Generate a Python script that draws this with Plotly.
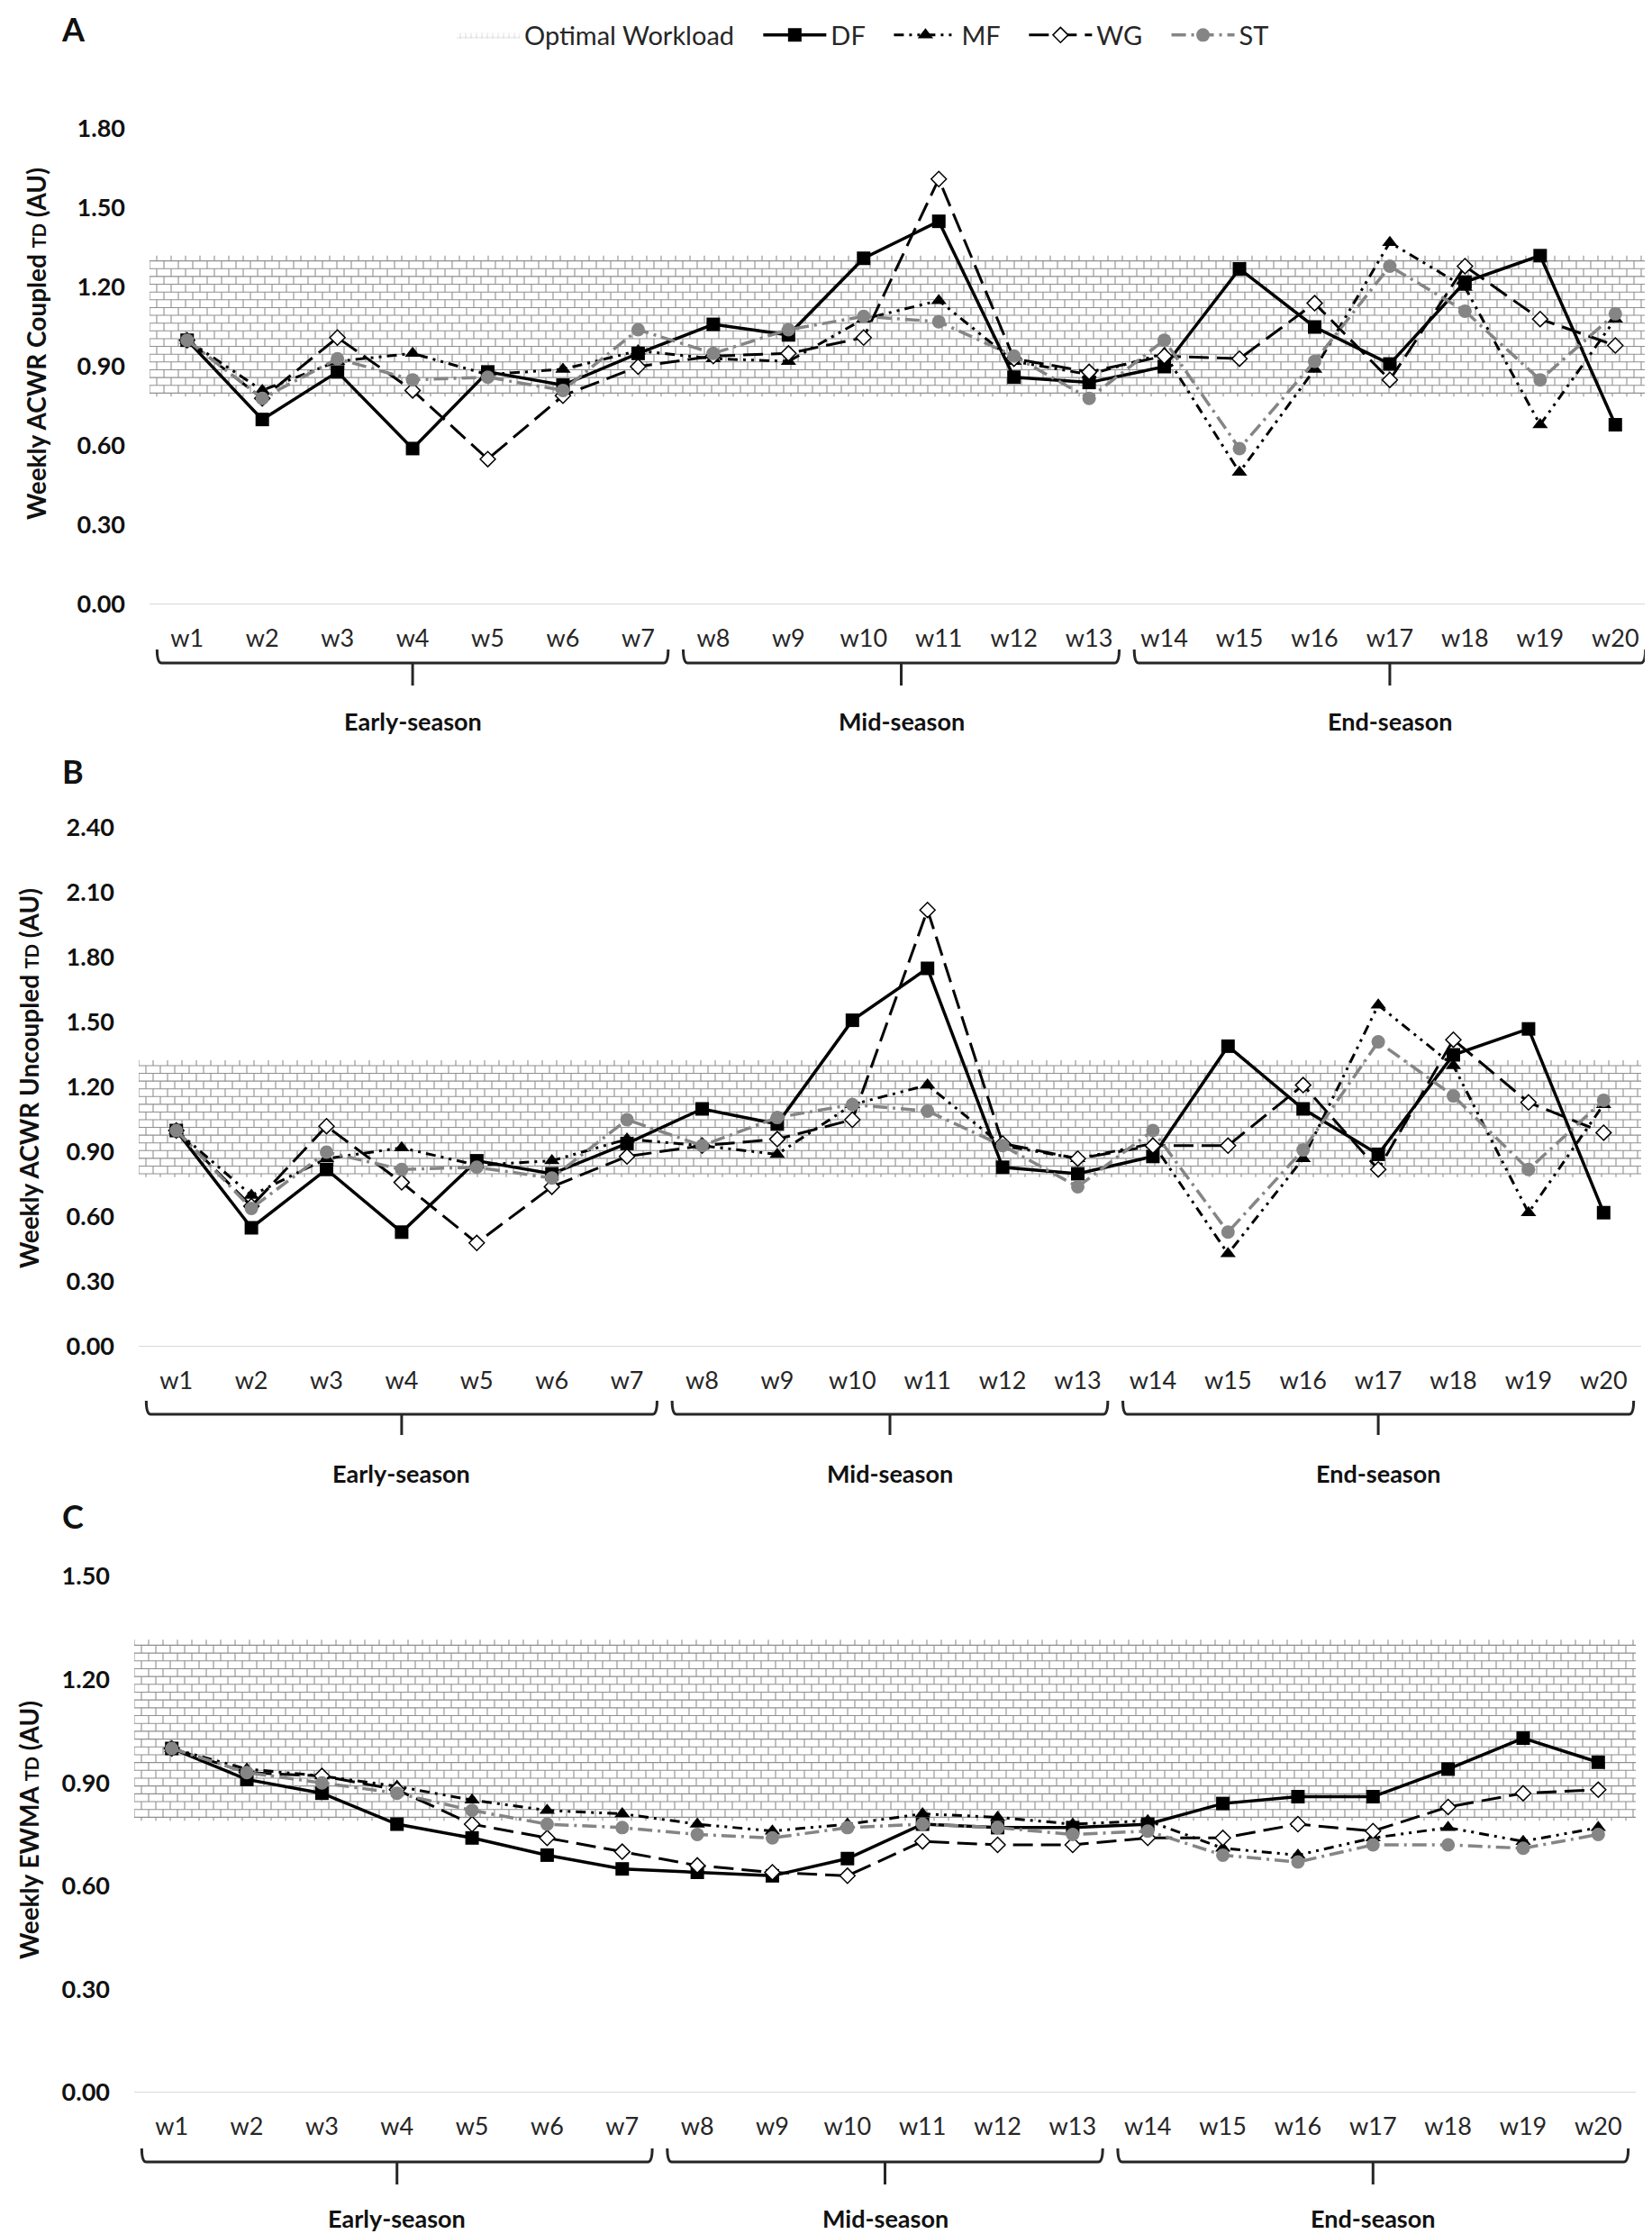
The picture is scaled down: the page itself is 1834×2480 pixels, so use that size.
import plotly.graph_objects as go

# weeks and season groups
week_labels = ["w1", "w2", "w3", "w4", "w5", "w6", "w7", "w8", "w9", "w10",
               "w11", "w12", "w13", "w14", "w15", "w16", "w17", "w18", "w19", "w20"]
season_labels = ["Early-season", "Mid-season", "End-season"]
season_first_week = [1, 8, 14]
season_last_week = [7, 13, 20]

# optimal workload band
optimal_low = 0.80
optimal_high = 1.30

# A: weekly ACWR coupled TD
coupled_df = [1.00, 0.70, 0.88, 0.59, 0.88, 0.83, 0.95, 1.06, 1.02, 1.31,
              1.45, 0.86, 0.84, 0.90, 1.27, 1.05, 0.91, 1.22, 1.32, 0.68]
coupled_mf = [1.00, 0.81, 0.92, 0.95, 0.87, 0.89, 0.96, 0.93, 0.92, 1.08,
              1.15, 0.92, 0.87, 0.95, 0.50, 0.89, 1.37, 1.20, 0.68, 1.08]
coupled_wg = [1.00, 0.78, 1.01, 0.81, 0.55, 0.79, 0.90, 0.94, 0.95, 1.01,
              1.61, 0.93, 0.88, 0.94, 0.93, 1.14, 0.85, 1.28, 1.08, 0.98]
coupled_st = [1.00, 0.78, 0.93, 0.85, 0.86, 0.81, 1.04, 0.95, 1.04, 1.09,
              1.07, 0.94, 0.78, 1.00, 0.59, 0.92, 1.28, 1.11, 0.85, 1.10]

# B: weekly ACWR uncoupled TD
uncoupled_df = [1.00, 0.55, 0.82, 0.53, 0.86, 0.80, 0.94, 1.10, 1.03, 1.51,
                1.75, 0.83, 0.80, 0.88, 1.39, 1.10, 0.89, 1.35, 1.47, 0.62]
uncoupled_mf = [1.00, 0.70, 0.87, 0.92, 0.84, 0.86, 0.96, 0.93, 0.89, 1.12,
                1.21, 0.93, 0.87, 0.94, 0.43, 0.87, 1.58, 1.30, 0.62, 1.12]
uncoupled_wg = [1.00, 0.65, 1.02, 0.76, 0.48, 0.74, 0.88, 0.93, 0.96, 1.05,
                2.02, 0.94, 0.87, 0.93, 0.93, 1.21, 0.82, 1.42, 1.13, 0.99]
uncoupled_st = [1.00, 0.64, 0.90, 0.82, 0.83, 0.78, 1.05, 0.93, 1.06, 1.12,
                1.09, 0.93, 0.74, 1.00, 0.53, 0.91, 1.41, 1.16, 0.82, 1.14]

# C: weekly EWMA TD
ewma_df = [1.00, 0.91, 0.87, 0.78, 0.74, 0.69, 0.65, 0.64, 0.63, 0.68,
           0.78, 0.77, 0.77, 0.78, 0.84, 0.86, 0.86, 0.94, 1.03, 0.96]
ewma_mf = [1.00, 0.94, 0.92, 0.89, 0.85, 0.82, 0.81, 0.78, 0.76, 0.78,
           0.81, 0.80, 0.78, 0.79, 0.71, 0.69, 0.74, 0.77, 0.73, 0.77]
ewma_wg = [1.00, 0.93, 0.92, 0.88, 0.78, 0.74, 0.70, 0.66, 0.64, 0.63,
           0.73, 0.72, 0.72, 0.74, 0.74, 0.78, 0.76, 0.83, 0.87, 0.88]
ewma_st = [1.00, 0.93, 0.90, 0.87, 0.82, 0.78, 0.77, 0.75, 0.74, 0.77,
           0.78, 0.77, 0.75, 0.76, 0.69, 0.67, 0.72, 0.72, 0.71, 0.75]

W, H = 1834, 2480
FONT = "Lato"
x_pos = list(range(1, len(week_labels) + 1))
GAP = "\u00a0\u00a0\u00a0"


def py(px):
    return 1 - px / H


# pixel layout of the three panels
panels = [
    dict(letter="A", x0=158, x1=1827, ybot=663, ytop=135, ymax=1.8,
         title="Weekly ACWR Coupled <span style='font-size:20px'>TD</span> (AU)", title_x=32, title_y=374,
         letter_y=24, series=[coupled_df, coupled_mf, coupled_wg, coupled_st],
         hook=713, line=728, tick=753, label=792),
    dict(letter="B", x0=146, x1=1814, ybot=1487, ytop=911, ymax=2.4,
         title="Weekly ACWR Uncoupled <span style='font-size:20px'>TD</span> (AU)", title_x=24, title_y=1189,
         letter_y=848, series=[uncoupled_df, uncoupled_mf, uncoupled_wg, uncoupled_st],
         hook=1547, line=1562, tick=1585, label=1627),
    dict(letter="C", x0=141, x1=1808, ybot=2315, ytop=1742, ymax=1.5,
         title="Weekly EWMA <span style='font-size:20px'>TD</span> (AU)", title_x=24, title_y=2024,
         letter_y=1675, series=[ewma_df, ewma_mf, ewma_wg, ewma_st],
         hook=2377, line=2392, tick=2417, label=2454),
]

names = ["DF", "MF", "WG", "ST"]
styles = [
    dict(line=dict(color="black", width=3.5), marker=dict(symbol="square", size=15, color="black")),
    dict(line=dict(color="black", width=3, dash="11px,6px,3px,6px,3px,6px"),
         marker=dict(symbol="triangle-up", size=15, color="black")),
    dict(line=dict(color="black", width=3, dash="22px,9px"),
         marker=dict(symbol="diamond", size=13, color="white", line=dict(color="black", width=1.5))),
    dict(line=dict(color="#858585", width=3.5, dash="16px,6px,3px,6px"),
         marker=dict(symbol="circle", size=15, color="#858585")),
]

BRICK = "#8f8f8f"


def brick_lines(ppu_y, ppu_x):
    row = 8.6 / ppu_y
    nrows = round((optimal_high - optimal_low) / row)
    row = (optimal_high - optimal_low) / nrows
    bw = 16 / ppu_x
    xs, ys = [], []
    for k in range(nrows + 1):
        y = optimal_low + k * row
        xs += [0.5, 20.5, None]
        ys += [y, y, None]
    for k in range(-1, nrows + 1):
        yb = optimal_low + k * row
        yt = yb + row
        if k == -1:
            yb = optimal_low - row * 0.45
        if k == nrows:
            yt = optimal_high + row * 0.7
        x = 0.5 + (k % 2) * bw / 2
        while x <= 20.5:
            xs += [x, x, None]
            ys += [yb, yt, None]
            x += bw
    return xs, ys


fig = go.Figure()
annotations = []
shapes = []

for i, p in enumerate(panels):
    ax = "" if i == 0 else str(i + 1)
    xref, yref = "x" + ax, "y" + ax
    ppu_y = (p["ybot"] - p["ytop"]) / p["ymax"]
    ppu_x = (p["x1"] - p["x0"]) / 20.0
    bx, by = brick_lines(ppu_y, ppu_x)
    fig.add_trace(go.Scatter(x=bx, y=by, mode="lines", line=dict(color=BRICK, width=1.1),
                             hoverinfo="skip", showlegend=False, xaxis=xref, yaxis=yref))
    if i == 0:
        # legend swatch for the band (zero-area polygon)
        fig.add_trace(go.Scatter(x=[10.5, 10.5, 10.5], y=[optimal_low, optimal_low, optimal_low],
                                 mode="lines", fill="toself", name="Optimal Workload" + GAP,
                                 line=dict(width=0, color=BRICK), fillcolor="white",
                                 fillpattern=dict(shape="+", fgcolor=BRICK, bgcolor="white", size=6, solidity=0.2),
                                 hoverinfo="skip", xaxis=xref, yaxis=yref, showlegend=True))
    for name, vals, st in zip(names, p["series"], styles):
        fig.add_trace(go.Scatter(x=x_pos, y=vals, name=name + (GAP if name != "ST" else ""),
                                 mode="lines+markers",
                                 line=st["line"], marker=st["marker"], showlegend=(i == 0),
                                 xaxis=xref, yaxis=yref))

    fig.layout["xaxis" + ax] = dict(
        domain=[p["x0"] / W, p["x1"] / W], range=[0.5, 20.5], anchor=yref,
        tickvals=x_pos, ticktext=week_labels, showgrid=False, zeroline=False,
        showline=False, ticks="", ticklabelstandoff=19,
        tickfont=dict(family=FONT, size=27, color="#262626"))
    fig.layout["yaxis" + ax] = dict(
        domain=[py(p["ybot"]), py(p["ytop"])], range=[0, p["ymax"]], anchor=xref,
        dtick=0.3, tick0=0, tickformat=".2f", showgrid=False, zeroline=False,
        showline=False, ticks="", ticklabelstandoff=26,
        tickfont=dict(family=FONT, size=27, color="#111111", weight="bold"))

    # axis baseline at zero
    shapes.append(dict(type="line", xref=xref, yref=yref, x0=0.5, x1=20.5, y0=0, y1=0,
                       line=dict(color="#d9d9d9", width=2)))

    # season brackets
    yh, yl, yt = py(p["hook"]), py(p["line"]), py(p["tick"])
    for lab, a, b in zip(season_labels, season_first_week, season_last_week):
        xl, xr = a - 0.4, b + 0.4
        xm = (a + b) / 2
        r = 0.06
        path = (f"M {xl},{yh} Q {xl},{yl} {xl + r},{yl} L {xr - r},{yl} Q {xr},{yl} {xr},{yh} "
                f"M {xm},{yl} L {xm},{yt}")
        shapes.append(dict(type="path", path=path, xref=xref, yref="paper",
                           line=dict(color="#262626", width=3)))
        annotations.append(dict(text=lab, x=xm, y=py(p["label"]), xref=xref, yref="paper",
                                showarrow=False, xanchor="center", yanchor="middle",
                                font=dict(family=FONT, size=27, color="#111111", weight="bold")))

    # panel letter and axis title
    annotations.append(dict(text=p["letter"], x=73 / W, y=py(p["letter_y"]), xref="paper", yref="paper",
                            showarrow=False, xanchor="center", yanchor="middle",
                            font=dict(family=FONT, size=36, color="#111111", weight="bold")))
    annotations.append(dict(text=p["title"], x=p["title_x"] / W, y=py(p["title_y"]), xref="paper", yref="paper",
                            showarrow=False, textangle=-90, xanchor="center", yanchor="middle",
                            font=dict(family=FONT, size=28, color="#111111", weight="bold")))

fig.update_layout(
    width=W, height=H,
    margin=dict(l=0, r=0, t=0, b=0, autoexpand=False),
    paper_bgcolor="white", plot_bgcolor="white",
    shapes=shapes, annotations=annotations,
    legend=dict(orientation="h", x=950 / W, xanchor="center", y=py(31), yanchor="middle",
                font=dict(family=FONT, size=29, color="#262626"), itemwidth=70,
                bgcolor="rgba(0,0,0,0)", traceorder="normal"),
    showlegend=True,
)

fig.write_html("out.html")
